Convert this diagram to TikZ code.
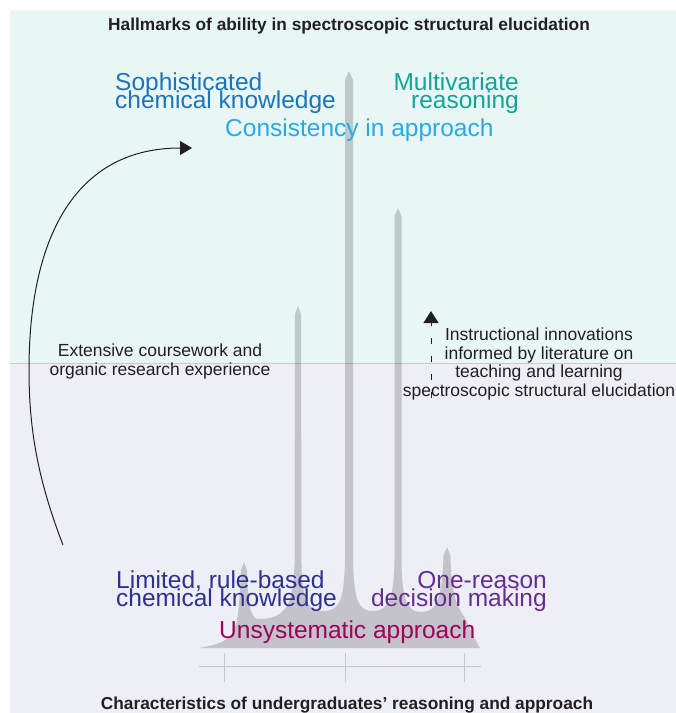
\documentclass[tikz,border=0pt]{standalone}
\usepackage{fontspec}
\setmainfont{Liberation Sans}
\usetikzlibrary{arrows.meta}

\definecolor{topback}{RGB}{233,246,246}
\definecolor{botback}{RGB}{238,238,246}
\definecolor{divider}{RGB}{200,202,206}
\definecolor{axisgray}{RGB}{200,200,208}
\definecolor{textgray}{RGB}{35,31,32}
\definecolor{sophblue}{RGB}{27,117,187}
\definecolor{multiteal}{RGB}{20,163,150}
\definecolor{consistblue}{RGB}{41,171,226}
\definecolor{limitblue}{RGB}{46,49,146}
\definecolor{onepurple}{RGB}{102,45,145}
\definecolor{unsysred}{RGB}{158,0,93}

% let lines of a node sit closer than their glyphs
\newcommand{\tightlines}{\lineskiplimit-100pt\relax}

\tikzset{
  biglabel/.style={inner sep=0pt,
    font=\fontsize{24.5}{18}\selectfont\tightlines},
  smalllabel/.style={inner sep=0pt, align=center, text=textgray,
    font=\fontsize{17.5}{18.5}\selectfont\tightlines},
  heading/.style={inner sep=0pt, text=textgray,
    font=\fontsize{17.3}{20}\selectfont\bfseries},
  spectrum/.style={fill=black, opacity=0.18},
  axisline/.style={axisgray, line width=1pt},
}

\begin{document}
\begin{tikzpicture}[x=1pt, y=-1pt]
    \useasboundingbox (0,0) rectangle (676,713);

    % two panels
    \fill[topback] (10,10) rectangle (676,363);
    \fill[botback] (10,363) rectangle (676,713);
    \draw[divider, line width=1pt] (10,363) -- (676,363);

    % the spectrum
    \fill[spectrum] (199,648)
      .. controls (215,645) and (232,642) .. (236,625)
      .. controls (239,612) and (240,590) .. (241,570)
      -- (244,562) -- (247,570)
      .. controls (248,600) and (250,619) .. (258,619)
      .. controls (286,619) and (293,605) .. (294.5,565)
      -- (295,314) -- (298,306) -- (301,314) -- (301.5,565)
      .. controls (302,600) and (308,611) .. (323,611)
      .. controls (340,611) and (344,600) .. (345,560)
      -- (345,80) -- (349,71) -- (353,80) -- (353,560)
      .. controls (354,600) and (358,611) .. (373,611)
      .. controls (388,611) and (394,600) .. (394.5,560)
      -- (394.5,216) -- (398,208) -- (401.5,216) -- (401.5,560)
      .. controls (402,600) and (407,612) .. (421,612)
      .. controls (436,612) and (442,600) .. (443.5,556)
      -- (447,547) -- (450.5,556)
      .. controls (451,590) and (456,605) .. (463,615)
      .. controls (470,625) and (474,640) .. (480,648)
      -- cycle;

    \draw[axisline] (199,666) -- (481,666);
    \foreach \x in {224, 345, 464} {
      \draw[axisline] (\x,653) -- (\x,682);
    }

    % headings
    \node[heading, anchor=base] (hallmarks) at (349,30)
      {Hallmarks of ability in spectroscopic structural elucidation};
    \node[heading, anchor=base] (traits) at (347,709)
      {Characteristics of undergraduates’ reasoning and approach};

    % upper labels (base = last line)
    \node[biglabel, text=sophblue, anchor=base west, align=left] (soph) at (115,108)
      {Sophisticated\\chemical knowledge};
    \node[biglabel, text=multiteal, anchor=base east, align=right] (multi) at (519,108)
      {Multivariate\\reasoning};
    \node[biglabel, text=consistblue, anchor=base west] (consist) at (225,136)
      {Consistency in approach};

    % lower labels
    \node[biglabel, text=limitblue, anchor=base west, align=left] (limited) at (116,606)
      {Limited, rule-based\\chemical knowledge};
    \node[biglabel, text=onepurple, anchor=base east, align=right] (onereason) at (547,606)
      {One-reason\\decision making};
    \node[biglabel, text=unsysred, anchor=base west] (unsys) at (219,638)
      {Unsystematic approach};

    % the two routes
    \node[smalllabel, anchor=base] (extensive) at (160,375)
      {Extensive coursework and\\organic research experience};
    \node[smalllabel, anchor=base] (instruct) at (539,396)
      {Instructional innovations\\informed by literature on\\teaching and learning\\spectroscopic structural elucidation};

    \coordinate (EXPLOW) at (63,545);
    \coordinate (EXPHIGH) at (192,148);
    \draw[textgray, line width=1pt, -{Triangle[length=12pt, width=14pt]}]
      (EXPLOW) .. controls (38,480) and (29,430) .. (29,370)
      .. controls (29,230) and (80,148) .. (EXPHIGH);

    \coordinate (INNOLOW) at (431,398);
    \coordinate (INNOHIGH) at (431,311);
    \draw[textgray, line width=1pt, dash pattern=on 6pt off 12pt,
      -{Triangle[length=12pt, width=15pt]}] (INNOLOW) -- (INNOHIGH);
  \end{tikzpicture}
\end{document}
